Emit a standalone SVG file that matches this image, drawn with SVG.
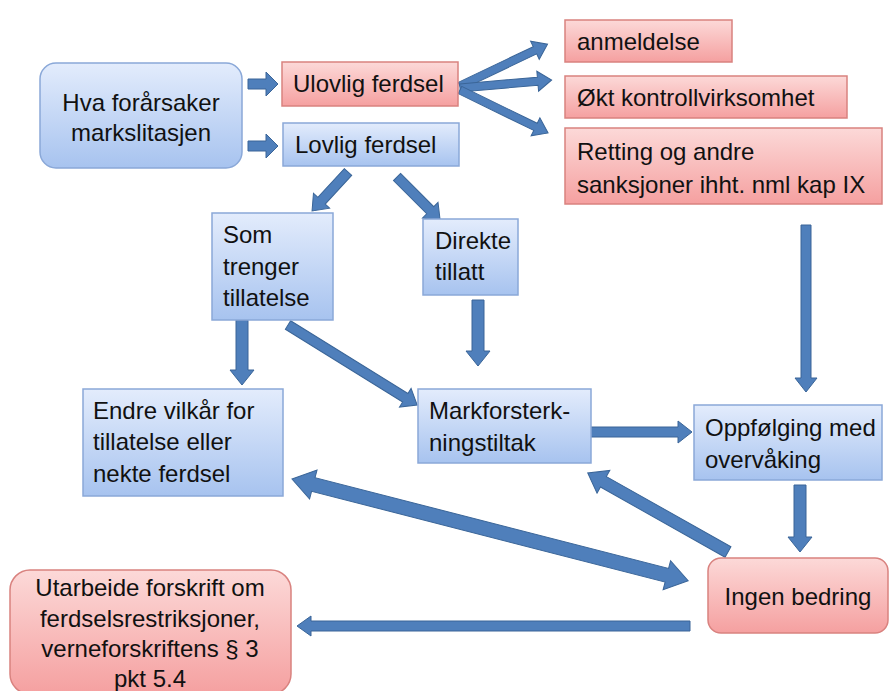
<svg xmlns="http://www.w3.org/2000/svg" width="890" height="691" viewBox="0 0 890 691">
<defs>
<linearGradient id="gb" x1="0" y1="0" x2="0" y2="1">
<stop offset="0" stop-color="#e3ecfc"/>
<stop offset="1" stop-color="#a7c3ef"/>
</linearGradient>
<linearGradient id="gr" x1="0" y1="0" x2="0" y2="1">
<stop offset="0" stop-color="#fcd9d8"/>
<stop offset="1" stop-color="#f5a0a0"/>
</linearGradient>
<style>
.b{fill:url(#gb);stroke:#8aa8d8;stroke-width:1.5}
.r{fill:url(#gr);stroke:#d9827f;stroke-width:1.5}
.t{font-family:"Liberation Sans",Arial,sans-serif;font-size:24px;fill:#111}
.c{text-anchor:middle}
.a{fill:#4f7fbb;stroke:#3a6598;stroke-width:1}
</style>
</defs>
<rect width="890" height="691" fill="#fff"/>

<g id="connectors">
<polygon class="a" transform="translate(248,84)" points="0,-5 18,-5 18,-12 30,0 18,12 18,5 0,5"/>
<polygon class="a" transform="translate(248,146)" points="0,-5 18,-5 18,-12 30,0 18,12 18,5 0,5"/>
<polygon class="a" transform="translate(460,86) rotate(-25.5)" points="0,-4 83,-4 83,-10 97,0 83,10 83,4 0,4"/>
<polygon class="a" transform="translate(460,88) rotate(-5)" points="0,-4 78,-4 78,-10 92,0 78,10 78,4 0,4"/>
<polygon class="a" transform="translate(460,90) rotate(26)" points="0,-4 84,-4 84,-10 98,0 84,10 84,4 0,4"/>
<polygon class="a" transform="translate(348,172) rotate(132.7)" points="0,-5 39,-5 39,-11 53,0 39,11 39,5 0,5"/>
<polygon class="a" transform="translate(397,177) rotate(45)" points="0,-5 47,-5 47,-11 61,0 47,11 47,5 0,5"/>
<polygon class="a" transform="translate(242,320) rotate(90)" points="0,-6 50,-6 50,-12 65,0 50,12 50,6 0,6"/>
<polygon class="a" transform="translate(288,325) rotate(31.8)" points="0,-5 138,-5 138,-11 152,0 138,11 138,5 0,5"/>
<polygon class="a" transform="translate(478,300) rotate(90)" points="0,-6 51,-6 51,-12 66,0 51,12 51,6 0,6"/>
<polygon class="a" transform="translate(806,225) rotate(90)" points="0,-5 153,-5 153,-11 167,0 153,11 153,5 0,5"/>
<polygon class="a" transform="translate(590,432)" points="0,-5 88,-5 88,-11 102,0 88,11 88,5 0,5"/>
<polygon class="a" transform="translate(800,485) rotate(90)" points="0,-6 52,-6 52,-12 67,0 52,12 52,6 0,6"/>
<polygon class="a" transform="translate(728,552) rotate(209.4)" points="0,-6 143,-6 143,-13 161,0 143,13 143,6 0,6"/>
<polygon class="a" transform="translate(292,479) rotate(14.4)" points="0,0 22,-15 22,-7 387,-7 387,-15 409,0 387,15 387,7 22,7 22,15"/>
<polygon class="a" transform="translate(690,626) rotate(180)" points="0,-5 379,-5 379,-10 393,0 379,10 379,5 0,5"/>
</g>

<g id="hva">
<rect class="b" x="40" y="63" width="202" height="105" rx="16"/>
<text class="t c" x="141" y="111">Hva forårsaker</text>
<text class="t c" x="141" y="141">markslitasjen</text>
</g>
<g id="ulovlig">
<rect class="r" x="282" y="62" width="176" height="44"/>
<text class="t" x="293" y="92">Ulovlig ferdsel</text>
</g>
<g id="lovlig">
<rect class="b" x="283" y="123" width="176" height="43"/>
<text class="t" x="295" y="153">Lovlig ferdsel</text>
</g>
<g id="anmeldelse">
<rect class="r" x="565" y="20" width="167" height="42"/>
<text class="t" x="577" y="50">anmeldelse</text>
</g>
<g id="okt">
<rect class="r" x="565" y="76" width="282" height="42"/>
<text class="t" x="577" y="106">Økt kontrollvirksomhet</text>
</g>
<g id="retting">
<rect class="r" x="565" y="128" width="317" height="76"/>
<text class="t" x="577" y="160">Retting og andre</text>
<text class="t" x="577" y="193">sanksjoner ihht. nml kap IX</text>
</g>
<g id="som">
<rect class="b" x="212" y="213" width="121" height="107"/>
<text class="t" x="223" y="243">Som</text>
<text class="t" x="223" y="275">trenger</text>
<text class="t" x="223" y="306">tillatelse</text>
</g>
<g id="direkte">
<rect class="b" x="423" y="219" width="95" height="76"/>
<text class="t" x="435" y="249">Direkte</text>
<text class="t" x="435" y="280">tillatt</text>
</g>
<g id="endre">
<rect class="b" x="83" y="389" width="200" height="107"/>
<text class="t" x="93" y="419">Endre vilkår for</text>
<text class="t" x="93" y="450">tillatelse eller</text>
<text class="t" x="93" y="482">nekte ferdsel</text>
</g>
<g id="markforsterk">
<rect class="b" x="418" y="389" width="173" height="74"/>
<text class="t" x="429" y="419">Markforsterk-</text>
<text class="t" x="429" y="451">ningstiltak</text>
</g>
<g id="oppfolging">
<rect class="b" x="694" y="405" width="188" height="75"/>
<text class="t" x="705" y="436">Oppfølging med</text>
<text class="t" x="705" y="468">overvåking</text>
</g>
<g id="ingen">
<rect class="r" x="708" y="558" width="180" height="75" rx="13"/>
<text class="t c" x="798" y="605">Ingen bedring</text>
</g>
<g id="utarbeide">
<rect class="r" x="10" y="570" width="281" height="124" rx="20"/>
<text class="t c" x="150" y="596">Utarbeide forskrift om</text>
<text class="t c" x="150" y="627">ferdselsrestriksjoner,</text>
<text class="t c" x="150" y="657">verneforskriftens § 3</text>
<text class="t c" x="150" y="687">pkt 5.4</text>
</g>
</svg>
